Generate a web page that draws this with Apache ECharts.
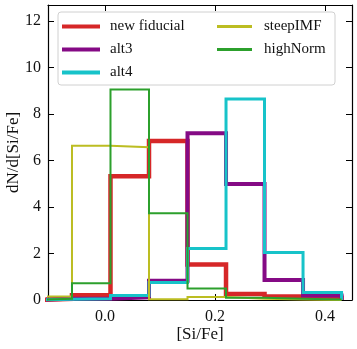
<!DOCTYPE html>
<html>
<head>
<meta charset="utf-8">
<script src="https://cdn.jsdelivr.net/npm/echarts@6/dist/echarts.min.js"></script>
<style>
  html, body { margin: 0; padding: 0; background: #fff; }
  #chart { width: 357px; height: 349px; }
</style>
</head>
<body>
<div id="chart"></div>
<script>
// bin edges of the [Si/Fe] histograms
const binEdges = [-0.13, -0.06, 0.01, 0.08, 0.15, 0.22, 0.29, 0.36, 0.43]

// dN/d[Si/Fe] per bin
const newFiducial = [0.05, 0.2, 5.33, 6.84, 1.53, 0.26, 0.15, 0.1]
const alt3 = [0.05, 0.05, 0.12, 0.83, 7.18, 4.99, 0.86, 0.19]
const alt4 = [0.03, 0.05, 0.19, 0.75, 2.22, 8.65, 2.05, 0.32]
const steepIMF = [0.15, 6.64, 6.58, 0.03, 0.13, 0.05, 0.02, 0.0]
const highNorm = [0.05, 0.72, 9.06, 3.73, 0.49, 0.1, 0.05, 0.02]

const xTicks = [0, 0.2, 0.4]
const yTicks = [0, 2, 4, 6, 8, 10, 12]

const font = '"Liberation Serif", "DejaVu Serif", serif'

// step outline like histtype='step'
function stepPoints(values) {
  const pts = [[binEdges[0], 0]]
  values.forEach((v, i) => {
    pts.push([binEdges[i], v])
    pts.push([binEdges[i + 1], v])
  })
  pts.push([binEdges[binEdges.length - 1], 0])
  return pts
}

const seriesDefs = [
  { name: 'new fiducial', values: newFiducial, color: '#d62728', width: 4.5 },
  { name: 'alt3', values: alt3, color: '#850a85', width: 4 },
  { name: 'alt4', values: alt4, color: '#17c3c9', width: 3 },
  { name: 'steepIMF', values: steepIMF, color: '#bcbd22', width: 2 },
  { name: 'highNorm', values: highNorm, color: '#2ca02c', width: 2 },
]

const chart = echarts.init(document.getElementById('chart'))

const tickStyle = { show: true, inside: true, length: 6, lineStyle: { color: '#000', width: 1 } }
const lineAxis = { show: true, onZero: false, lineStyle: { color: '#000', width: 1.2 } }

// legend entries drawn as short bars
function legendItems(names) {
  return names.map((n) => ({ name: n, icon: 'rect' }))
}

const legendCommon = {
  orient: 'vertical',
  itemWidth: 38,
  itemHeight: 4,
  itemGap: 6,
  itemStyle: { borderWidth: 0 },
  textStyle: { fontFamily: font, fontSize: 15, color: '#111', padding: [0, 0, 0, 5], lineHeight: 17 },
}

const option = {
  animation: false,
  grid: { left: 48, right: 5, top: 5, bottom: 49, containLabel: false, outerBoundsMode: 'none' },
  graphic: [{
    type: 'rect',
    shape: { x: 58, y: 12, width: 277, height: 73, r: 3 },
    style: { fill: 'rgba(255,255,255,0.85)', stroke: '#d0d0d0', lineWidth: 1 },
    z: 100,
  }],
  legend: [
    Object.assign({}, legendCommon, {
      left: 57, top: 13, z: 101,
      data: legendItems(['new fiducial', 'alt3', 'alt4']),
    }),
    Object.assign({}, legendCommon, {
      left: 212, top: 13, z: 101,
      itemWidth: 35,
      itemHeight: 3,
      textStyle: Object.assign({}, legendCommon.textStyle, { padding: [0, 0, 0, 7] }),
      data: legendItems(['steepIMF', 'highNorm']),
    }),
  ],
  xAxis: [
    {
      type: 'value', min: -0.1036, max: 0.449,
      axisLine: lineAxis,
      axisTick: Object.assign({}, tickStyle, { customValues: xTicks }),
      axisLabel: {
        customValues: xTicks, margin: 9,
        fontFamily: font, fontSize: 16, color: '#111',
        formatter: (v) => v.toFixed(1),
      },
      splitLine: { show: false },
      name: '[Si/Fe]', nameLocation: 'middle', nameGap: 26, nameMoveOverlap: false,
      nameTextStyle: { fontFamily: font, fontSize: 17, color: '#111' },
    },
    {
      type: 'value', position: 'top', min: -0.1036, max: 0.449,
      axisLine: lineAxis,
      axisTick: Object.assign({}, tickStyle, { customValues: xTicks }),
      axisLabel: { show: false },
      splitLine: { show: false },
    },
  ],
  yAxis: [
    {
      type: 'value', min: 0, max: 12.7,
      axisLine: lineAxis,
      axisTick: Object.assign({}, tickStyle, { customValues: yTicks }),
      axisLabel: {
        customValues: yTicks, margin: 7,
        fontFamily: font, fontSize: 16, color: '#111',
      },
      splitLine: { show: false },
      name: 'dN/d[Si/Fe]', nameLocation: 'middle', nameGap: 26, nameMoveOverlap: false,
      nameTextStyle: { fontFamily: font, fontSize: 17, color: '#111' },
    },
    {
      type: 'value', position: 'right', min: 0, max: 12.7,
      axisLine: lineAxis,
      axisTick: Object.assign({}, tickStyle, { customValues: yTicks }),
      axisLabel: { show: false },
      splitLine: { show: false },
    },
  ],
  series: seriesDefs.map((s, i) => ({
    name: s.name,
    type: 'line',
    data: stepPoints(s.values),
    symbol: 'none',
    clip: true,
    z: 2 + i,
    itemStyle: { color: s.color },
    lineStyle: { color: s.color, width: s.width, join: 'miter' },
  })),
}

chart.setOption(option)
</script>
</body>
</html>
